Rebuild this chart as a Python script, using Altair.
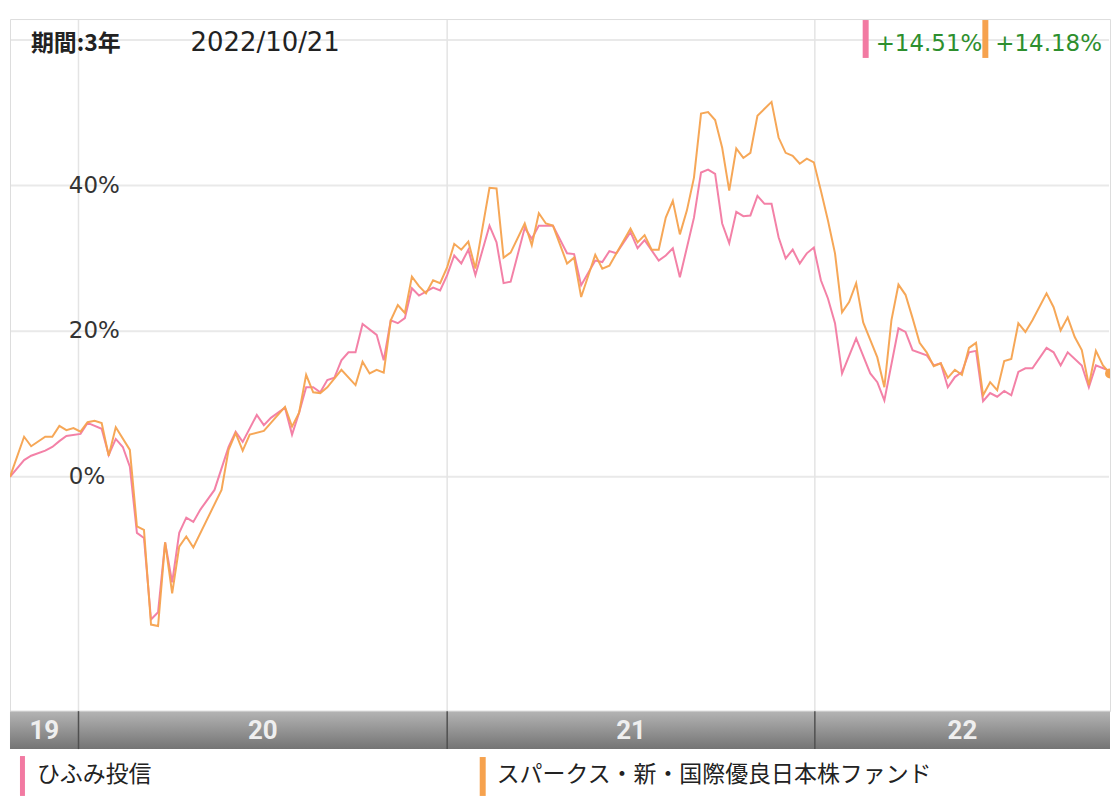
import altair as alt
import pandas as pd

# ---------------- data ----------------
start_date = "2019-10-25"          # week 0
year_starts = ["2020-01-01", "2021-01-01", "2022-01-01"]
year_labels = ["19", "20", "21", "22"]
header_period = "期間:3年"
header_date = "2022/10/21"
fund_names = ["ひふみ投信", "スパークス・新・国際優良日本株ファンド"]
fund_colors = ["#f27aa2", "#f6a24e"]
y_tick_values = [0, 20, 40]
y_grid_values = [0, 20, 40, 60]

hifumi_week = [0, 2, 3, 5, 6, 7, 8, 10, 11, 13, 14, 15, 16, 17, 18, 19, 20, 21, 22, 23,
               24, 25, 26, 27, 29, 31, 32, 33, 35, 36, 37, 39, 40, 41, 42, 43, 44, 45, 46, 47,
               48, 49, 50, 52, 53, 54, 55, 56, 57, 58, 60, 61, 62, 63, 64, 65, 66, 68, 69, 70,
               71, 73, 74, 75, 77, 79, 80, 81, 83, 84, 85, 86, 88, 89, 90, 92, 93, 94, 95, 97,
               98, 99, 100, 101, 102, 103, 104, 105, 106, 107, 108, 109, 110, 111, 112, 113, 114, 115, 116, 117,
               118, 120, 122, 123, 124, 126, 127, 128, 130, 131, 132, 133, 134, 135, 136, 137, 138, 139, 140, 141,
               142, 143, 144, 145, 147, 148, 149, 150, 152, 153, 154, 156]
hifumi_pct = [0.0, 2.3, 2.9, 3.6, 4.1, 4.9, 5.6, 5.9, 7.4, 6.6, 3.0, 5.2, 4.1, 1.4, -7.7, -8.4, -19.6, -18.6, -9.0, -14.5,
              -7.7, -5.6, -6.2, -4.5, -1.8, 4.1, 6.2, 4.8, 8.5, 7.1, 8.1, 9.5, 5.8, 8.8, 12.3, 12.3, 11.6, 13.3, 13.6, 16.0,
              17.1, 17.1, 21.0, 19.5, 16.0, 21.5, 21.1, 21.8, 25.9, 24.9, 26.0, 25.6, 27.7, 30.4, 29.3, 31.2, 27.7, 34.5, 32.2, 26.6,
              26.8, 34.2, 32.7, 34.5, 34.5, 30.7, 30.6, 26.3, 29.7, 29.5, 31.0, 30.7, 33.6, 31.4, 32.5, 29.7, 30.4, 31.4, 27.4, 35.6,
              41.8, 42.2, 41.6, 34.8, 32.1, 36.4, 35.8, 35.9, 38.6, 37.5, 37.5, 32.9, 30.0, 31.2, 29.3, 30.7, 31.5, 27.0, 24.5, 21.1,
              14.2, 19.0, 14.2, 13.0, 10.5, 20.4, 19.9, 17.4, 16.7, 15.3, 15.6, 12.3, 13.7, 14.4, 17.1, 17.3, 10.4, 11.5, 11.0, 11.8,
              11.2, 14.4, 14.9, 14.9, 17.7, 17.1, 15.3, 17.1, 15.3, 12.3, 15.3, 14.51]

sparx_week = [0, 2, 3, 5, 6, 7, 8, 9, 10, 11, 12, 13, 14, 15, 17, 18, 19, 20, 21, 22,
              23, 24, 25, 26, 30, 31, 32, 33, 34, 36, 39, 40, 41, 42, 43, 44, 45, 47, 49, 50,
              51, 52, 53, 54, 55, 56, 57, 58, 59, 60, 61, 62, 63, 64, 65, 66, 68, 69, 70, 71,
              73, 74, 75, 76, 77, 79, 80, 81, 83, 84, 85, 88, 89, 90, 91, 92, 93, 94, 95, 96,
              97, 98, 99, 100, 101, 102, 103, 104, 105, 106, 108, 109, 110, 111, 112, 113, 114, 115, 116, 117,
              118, 119, 120, 121, 122, 123, 124, 125, 126, 127, 128, 129, 130, 131, 132, 133, 134, 135, 136, 137,
              138, 139, 140, 141, 142, 143, 144, 145, 147, 148, 149, 150, 151, 152, 153, 154, 155, 156]
sparx_pct = [0.0, 5.5, 4.2, 5.5, 5.5, 7.0, 6.4, 6.7, 6.2, 7.5, 7.7, 7.4, 2.9, 6.8, 3.7, -6.8, -7.3, -20.3, -20.5, -9.0,
             -16.0, -9.6, -8.2, -9.7, -1.8, 3.7, 6.0, 3.6, 5.8, 6.3, 9.6, 6.9, 8.8, 14.0, 11.6, 11.5, 12.3, 14.7, 12.6, 15.8,
             14.2, 14.7, 14.3, 21.5, 23.6, 22.5, 27.5, 26.2, 25.2, 27.0, 26.6, 28.8, 32.0, 31.2, 32.3, 28.6, 39.7, 39.6, 30.1, 30.8,
             34.8, 31.8, 36.2, 34.8, 34.5, 29.3, 30.1, 24.7, 30.5, 28.6, 29.0, 34.1, 32.2, 33.2, 31.2, 31.2, 35.6, 37.9, 33.3, 36.6,
             41.1, 49.9, 50.1, 49.0, 45.2, 39.3, 45.1, 43.8, 44.5, 49.6, 51.5, 46.6, 44.5, 44.1, 43.0, 43.7, 43.2, 39.3, 35.2, 30.7,
             22.6, 24.0, 26.6, 21.2, 18.8, 16.4, 12.3, 21.5, 26.4, 25.0, 21.8, 18.4, 17.1, 15.2, 15.6, 13.6, 14.7, 14.0, 17.7, 18.4,
             11.2, 13.0, 11.9, 15.9, 16.2, 21.1, 19.9, 21.5, 25.2, 23.3, 20.1, 21.9, 19.2, 17.4, 12.6, 17.3, 15.3, 14.18]

# ---------------- tables ----------------
start = pd.Timestamp(start_date)


def to_dates(weeks):
    return [(start + pd.Timedelta(days=7 * w)).strftime("%Y-%m-%d") for w in weeks]


series = pd.concat([
    pd.DataFrame({"date": to_dates(hifumi_week), "pct": hifumi_pct, "fund": fund_names[0]}),
    pd.DataFrame({"date": to_dates(sparx_week), "pct": sparx_pct, "fund": fund_names[1]}),
])
last_sparx = pd.DataFrame({"date": to_dates(sparx_week[-1:]), "pct": sparx_pct[-1:]})
end_date = to_dates(sparx_week[-1:])[0]

bounds = [start_date] + year_starts + [end_date]
mids = [(pd.Timestamp(a) + (pd.Timestamp(b) - pd.Timestamp(a)) / 2).strftime("%Y-%m-%dT%H:%M:%S")
        for a, b in zip(bounds[:-1], bounds[1:])]
year_df = pd.DataFrame({"date": mids, "label": year_labels})
bound_df = pd.DataFrame({"date": year_starts})
ytick_df = pd.DataFrame({"v": y_tick_values, "label": [f"{v}%" for v in y_tick_values]})
ygrid_df = pd.DataFrame({"v": y_grid_values})
one = pd.DataFrame({"k": [0]})

W, H = 1103, 694
BAND = 38
Y_DOMAIN = [-32.19, 62.88]
JP = "Noto Sans CJK JP"
LAT = "DejaVu Sans"

xs = alt.Scale(domain=[start_date, end_date], nice=False, padding=0)
ys = alt.Scale(domain=Y_DOMAIN, nice=False, zero=False)
X = alt.X("date:T", scale=xs, axis=None)

grid_h = alt.Chart(ygrid_df).mark_rule(color="#e9e9e9", strokeWidth=2).encode(
    y=alt.Y("v:Q", scale=ys, axis=None), x=alt.value(1), x2=alt.value(W - 1))
grid_v = alt.Chart(bound_df).mark_rule(color="#e4e4e4", strokeWidth=1.5).encode(
    x=X, y=alt.value(1), y2=alt.value(H))

band = alt.Chart(one).mark_rect(
    fill=alt.LinearGradient(gradient="linear", x1=0, y1=0, x2=0, y2=1,
                            stops=[alt.GradientStop(color="#b4b4b4", offset=0),
                                   alt.GradientStop(color="#747474", offset=1)])
).encode(x=alt.value(0), x2=alt.value(W), y=alt.value(H), y2=alt.value(H + BAND))
band_top = alt.Chart(one).mark_rule(color="#d0d0d0", strokeWidth=1).encode(
    x=alt.value(0), x2=alt.value(W), y=alt.value(H))
band_div = alt.Chart(bound_df).mark_rule(color="#505050", strokeWidth=1.5).encode(
    x=X, y=alt.value(H), y2=alt.value(H + BAND))
band_text = alt.Chart(year_df).mark_text(
    font="Roboto", fontSize=26, fontWeight="bold", color="#efefef", baseline="middle", align="center"
).encode(x=X, y=alt.value(H + BAND / 2 + 1), text="label:N")

ylabels = alt.Chart(ytick_df).mark_text(
    font=LAT, fontSize=23, color="#333333", align="left", baseline="middle"
).encode(y=alt.Y("v:Q", scale=ys, axis=None), x=alt.value(59), text="label:N")

lines = alt.Chart(series).mark_line(strokeWidth=2, opacity=0.95, clip=True).encode(
    x=X,
    y=alt.Y("pct:Q", scale=ys, axis=None),
    color=alt.Color("fund:N", scale=alt.Scale(domain=fund_names, range=fund_colors), legend=None),
    order=alt.Order("date:T"),
    detail="fund:N",
)
end_dot = alt.Chart(last_sparx).mark_circle(size=100, opacity=1, color=fund_colors[1], clip=True).encode(
    x=X, y=alt.Y("pct:Q", scale=ys, axis=None))

hdr1 = alt.Chart(one).mark_text(font=JP, fontSize=23, fontWeight="bold", color="#222222",
                                align="left", baseline="middle").encode(
    x=alt.value(21), y=alt.value(25), text=alt.value(header_period))
hdr2 = alt.Chart(one).mark_text(font=LAT, fontSize=26, color="#222222",
                                align="left", baseline="middle").encode(
    x=alt.value(181), y=alt.value(24), text=alt.value(header_date))

bar1 = alt.Chart(one).mark_rect(color=fund_colors[0]).encode(
    x=alt.value(855), x2=alt.value(861), y=alt.value(1), y2=alt.value(39))
bar2 = alt.Chart(one).mark_rect(color=fund_colors[1]).encode(
    x=alt.value(975), x2=alt.value(981), y=alt.value(1), y2=alt.value(39))
ret1 = alt.Chart(one).mark_text(font=LAT, fontSize=23, color="#2e8f2e",
                                align="left", baseline="middle").encode(
    x=alt.value(868), y=alt.value(25), text=alt.value(f"+{hifumi_pct[-1]:.2f}%"))
ret2 = alt.Chart(one).mark_text(font=LAT, fontSize=23, color="#2e8f2e",
                                align="left", baseline="middle").encode(
    x=alt.value(988), y=alt.value(25), text=alt.value(f"+{sparx_pct[-1]:.2f}%"))

leg_bar1 = alt.Chart(one).mark_rect(color=fund_colors[0]).encode(
    x=alt.value(10), x2=alt.value(15), y=alt.value(739), y2=alt.value(779))
leg_bar2 = alt.Chart(one).mark_rect(color=fund_colors[1]).encode(
    x=alt.value(471), x2=alt.value(477), y=alt.value(740), y2=alt.value(779))
leg_txt1 = alt.Chart(one).mark_text(font=JP, fontSize=23, color="#222222",
                                    align="left", baseline="middle").encode(
    x=alt.value(27), y=alt.value(758), text=alt.value(fund_names[0]))
leg_txt2 = alt.Chart(one).mark_text(font=JP, fontSize=23, color="#222222",
                                    align="left", baseline="middle").encode(
    x=alt.value(488), y=alt.value(758), text=alt.value(fund_names[1]))

chart = alt.layer(
    grid_h, grid_v, band, band_top, band_div, band_text, ylabels, lines, end_dot,
    hdr1, hdr2, bar1, bar2, ret1, ret2, leg_bar1, leg_bar2, leg_txt1, leg_txt2,
).properties(
    width=W, height=H, padding={"left": 1, "top": 10, "right": 0, "bottom": 0}
).configure_view(stroke="#dcdcdc", strokeWidth=1.5).configure(background="white")

chart.save("out.html", embed_options={"renderer": "svg", "actions": False})
